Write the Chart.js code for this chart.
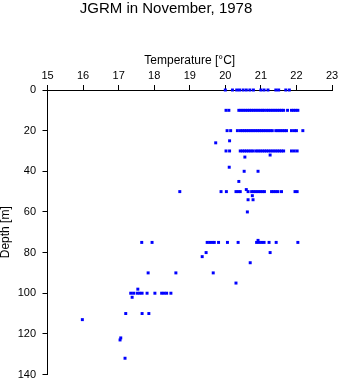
<!DOCTYPE html>
<html>
<head>
<meta charset="utf-8">
<script src="https://cdn.jsdelivr.net/npm/chart.js@4"></script>
<style>
  html, body { margin: 0; padding: 0; background: #fff; }
</style>
</head>
<body>
<canvas id="chart" width="341" height="384"></canvas>
<script>
// temperatures [°C] measured at the standard depths [m]
const t0 = [20.0, 20.2, 20.32, 20.4, 20.5, 20.59, 20.69, 20.79, 21.0, 21.09, 21.2, 21.42, 21.5, 21.7, 21.8];
const t10 = [20.02, 20.1, 20.38, 20.44, 20.5, 20.56, 20.62, 20.68, 20.74, 20.8, 20.86, 20.92, 20.98, 21.04, 21.09,
  21.16, 21.22, 21.28, 21.34, 21.4, 21.46, 21.52, 21.58, 21.64, 21.75, 21.86, 21.92, 21.98, 22.04];
const t20 = [20.05, 20.15, 20.34, 20.42, 20.48, 20.54, 20.6, 20.66, 20.72, 20.78, 20.84, 20.9, 20.96, 21.02, 21.08,
  21.14, 21.2, 21.26, 21.32, 21.42, 21.48, 21.54, 21.6, 21.66, 21.72, 21.86, 21.94, 22.0, 22.18];
const t30 = [20.02, 20.12, 20.42, 20.48, 20.54, 20.6, 20.66, 20.72, 20.78, 20.86, 20.92, 20.98, 21.04, 21.1, 21.16,
  21.22, 21.28, 21.34, 21.4, 21.46, 21.52, 21.58, 21.64, 21.86, 21.94, 22.02];
const t50 = [18.72, 19.88, 20.03, 20.3, 20.36, 20.42, 20.64, 20.74, 20.8, 20.86, 20.92, 20.98, 21.04, 21.1,
  21.3, 21.36, 21.42, 21.48, 21.58, 21.96, 22.02];
const t75 = [17.65, 17.94, 19.49, 19.56, 19.63, 19.69, 19.81, 20.06, 20.36, 20.88, 20.95, 21.02, 21.09, 21.23, 21.43, 22.04];
const t100 = [17.34, 17.42, 17.52, 17.59, 17.66, 17.8, 18.02, 18.21, 18.28, 18.35, 18.47];
const t110 = [17.2, 17.66, 17.85];

// odd depths
const otherTemp = [19.73, 20.12, 20.55, 21.26, 20.11, 20.53, 20.92, 20.38, 20.59, 20.76, 20.64, 20.78, 20.62,
  20.92, 19.46, 21.26, 19.35, 20.7, 17.83, 18.61, 19.66, 20.3, 17.54, 17.38, 15.98, 17.06, 17.04, 17.18];
const otherDepth = [26, 25, 33, 32, 38, 40, 40, 45, 49, 52, 54, 54, 60,
  74, 80, 80, 82, 85, 90, 90, 90, 95, 98, 102, 113, 122, 123, 132];

const rows = [[0, t0], [10, t10], [20, t20], [30, t30], [50, t50], [75, t75], [100, t100], [110, t110]];

const points = [];
rows.forEach(([d, temps]) => temps.forEach(t => points.push({x: t, y: d})));
otherTemp.forEach((t, i) => points.push({x: t, y: otherDepth[i]}));

Chart.defaults.font.family = '"Liberation Sans", Arial, sans-serif';
Chart.defaults.color = '#000';

new Chart(document.getElementById('chart'), {
  type: 'scatter',
  data: {
    datasets: [{
      data: points,
      backgroundColor: '#0000ff',
      borderWidth: 0,
      pointStyle: 'rect',
      pointRadius: 2.1,
      clip: false
    }]
  },
  options: {
    responsive: false,
    animation: false,
    layout: {padding: {left: 0, right: 9, top: 0, bottom: 9.5}},
    plugins: {
      legend: {display: false},
      tooltip: {enabled: false},
      title: {
        display: true,
        text: 'JGRM in November, 1978',
        color: '#000',
        font: {size: 15, weight: 'normal'},
        padding: {top: 0, bottom: 0}
      }
    },
    scales: {
      x: {
        type: 'linear',
        position: 'top',
        min: 15,
        max: 23,
        afterFit: s => { s.height = 72; },
        ticks: {stepSize: 1, font: {size: 11}, padding: 2.4, maxRotation: 0},
        grid: {drawOnChartArea: false, drawTicks: true, tickLength: 5, color: '#000'},
        border: {display: true, color: '#000', width: 1},
        title: {display: true, text: 'Temperature [°C]', font: {size: 12}, padding: {top: 35.8, bottom: 0}}
      },
      y: {
        type: 'linear',
        reverse: true,
        min: 0,
        max: 140,
        afterFit: s => { s.width = 47.5; s.paddingTop = 0; s.paddingBottom = 0; },
        ticks: {stepSize: 20, font: {size: 11}, padding: 6.5},
        grid: {drawOnChartArea: false, drawTicks: true, tickLength: 5, color: '#000'},
        border: {display: true, color: '#000', width: 1},
        title: {display: true, text: 'Depth [m]', font: {size: 12, lineHeight: 1}, padding: {top: 0, bottom: 0}}
      }
    }
  }
});
</script>
</body>
</html>
